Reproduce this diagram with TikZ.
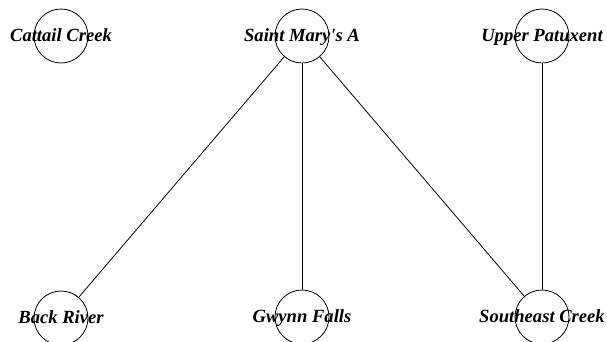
\documentclass[tikz,border=0pt]{standalone}
\usepackage{fontspec}
\setmainfont{Liberation Serif}
\tikzstyle{site} = [circle, draw, minimum size=54pt, inner sep=0pt, line width=0.8pt]
\tikzstyle{sitename} = [font=\fontsize{18.6}{22}\selectfont\bfseries\itshape, inner sep=0pt, text height=10pt, text depth=0pt]
\tikzstyle{link} = [line width=0.8pt]

\begin{document}
\begin{tikzpicture}[x=1pt, y=-1pt]
\useasboundingbox (0,0) rectangle (607,341);
%begin top row
\node[site, label={[sitename]center:Cattail Creek}] (cattail) at (61,36) {};
\node[site, label={[sitename]center:Saint Mary\textquotesingle s A}] (stmary) at (302,36) {};
\node[site, label={[sitename]center:Upper Patuxent}] (patuxent) at (542,36) {};
%end top row
%begin bottom row
\node[site, label={[sitename]center:Back River}] (backriver) at (61,318) {};
\node[site, label={[sitename]center:Gwynn Falls}] (gwynn) at (302,317) {};
\node[site, label={[sitename]center:Southeast Creek}] (southeast) at (542,317) {};
%end bottom row
%begin links
\draw[link] (stmary) -- (backriver);
\draw[link] (stmary) -- (gwynn);
\draw[link] (stmary) -- (southeast);
\draw[link] (patuxent) -- (southeast);
%end links
\end{tikzpicture}
\end{document}
